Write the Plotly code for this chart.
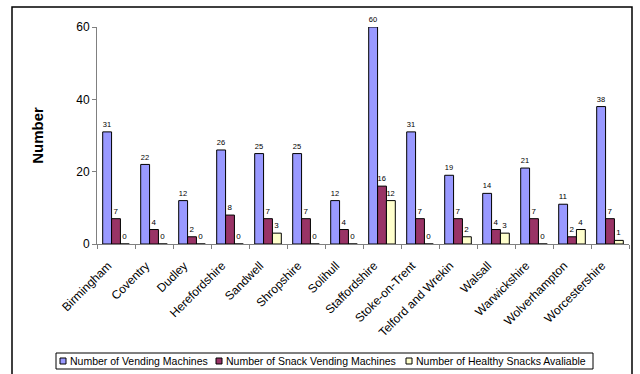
import plotly.graph_objects as go

areas = ["Birmingham", "Coventry", "Dudley", "Herefordshire", "Sandwell", "Shropshire",
         "Solihull", "Staffordshire", "Stoke-on-Trent", "Telford and Wrekin", "Walsall",
         "Warwickshire", "Wolverhampton", "Worcestershire"]
vending = [31, 22, 12, 26, 25, 25, 12, 60, 31, 19, 14, 21, 11, 38]
snack_vending = [7, 4, 2, 8, 7, 7, 4, 16, 7, 7, 4, 7, 2, 7]
healthy = [0, 0, 0, 0, 3, 0, 0, 12, 0, 2, 3, 0, 4, 1]

series_names = ["Number of Vending Machines", "Number of Snack Vending Machines",
                "Number of Healthy Snacks Avaliable"]
series_values = [vending, snack_vending, healthy]
series_colors = ["#9999FF", "#993366", "#FFFFCC"]

W, H = 640, 374
ML, MR, MT, MB = 97, 11, 27, 130
PW, PH = W - ML - MR, H - MT - MB


def px_x(x):
    return (x - ML) / PW


def px_y(y):
    return (H - MB - y) / PH


fig = go.Figure()
for name, vals, color in zip(series_names, series_values, series_colors):
    fig.add_trace(go.Bar(
        x=areas, y=vals, name=name,
        marker=dict(color=color, line=dict(color="black", width=1)),
        text=[str(v) for v in vals], textposition="outside",
        textfont=dict(size=8, color="black"), cliponaxis=False,
    ))

shapes = [dict(type="rect", xref="paper", yref="paper",
               x0=px_x(12), x1=px_x(632), y0=px_y(385), y1=px_y(7),
               line=dict(color="black", width=1.5))]
annotations = []

# legend box drawn along the bottom
shapes.append(dict(type="rect", xref="paper", yref="paper",
                   x0=px_x(56), x1=px_x(593), y0=px_y(369), y1=px_y(353),
                   line=dict(color="black", width=1)))
legend_x = [60, 216, 406]
for lx, name, color in zip(legend_x, series_names, series_colors):
    shapes.append(dict(type="rect", xref="paper", yref="paper",
                       x0=px_x(lx), x1=px_x(lx + 6), y0=px_y(364), y1=px_y(358),
                       fillcolor=color, line=dict(color="black", width=1)))
    annotations.append(dict(text=name, xref="paper", yref="paper",
                            x=px_x(lx + 8), y=px_y(361), xanchor="left", yanchor="middle",
                            showarrow=False, font=dict(size=10.5, color="black")))

fig.update_layout(
    width=W, height=H,
    margin=dict(l=ML, r=MR, t=MT, b=MB),
    paper_bgcolor="white", plot_bgcolor="white",
    font=dict(family="Liberation Sans, Arial, sans-serif", color="black"),
    barmode="group", bargap=0.30, bargroupgap=0,
    showlegend=False,
    shapes=shapes, annotations=annotations,
)
fig.update_yaxes(range=[0, 60], tickvals=[0, 20, 40, 60], showline=True,
                 linecolor="#808080", ticks="outside", ticklen=4, tickcolor="#808080",
                 showgrid=False, zeroline=False, tickfont=dict(size=12), automargin=False,
                 title=dict(text="<b>Number</b>", font=dict(size=15), standoff=28))
fig.update_xaxes(showline=True, linecolor="#808080", ticks="outside", ticklen=4,
                 tickcolor="#808080", tickson="boundaries", tickangle=-45,
                 ticklabelstandoff=9, ticklabelshift=-8,
                 tickfont=dict(size=12), showgrid=False, automargin=False)

fig.write_html("out.html")
